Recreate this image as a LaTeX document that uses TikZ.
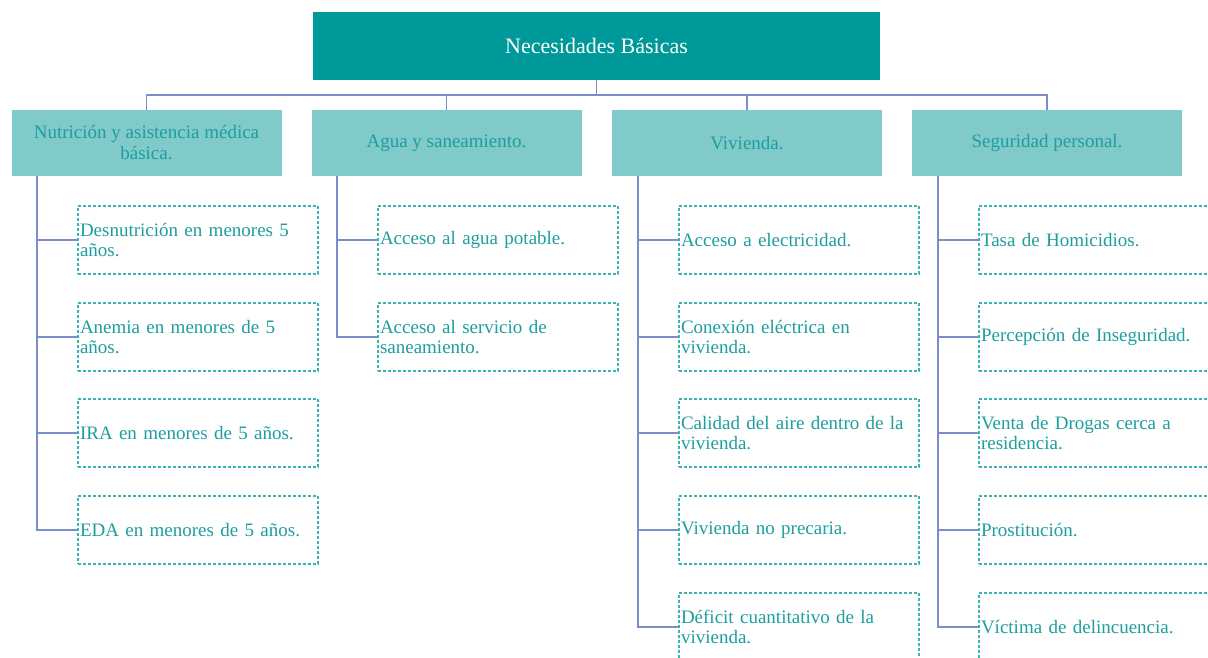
\documentclass[tikz,border=0pt]{standalone}
\usepackage{fontspec}
\setmainfont{Liberation Serif}
\definecolor{topfill}{RGB}{0,153,153}
\definecolor{catfill}{RGB}{128,202,202}
\definecolor{tealtxt}{RGB}{30,158,158}
\definecolor{dashcol}{RGB}{60,178,178}
\definecolor{linecol}{RGB}{122,142,204}
\tikzset{
  topbox/.style={fill=topfill, text=white, minimum width=567pt, minimum height=68pt, inner sep=0pt, font=\fontsize{22}{26}\selectfont},
  catbox/.style={fill=catfill, text=tealtxt, minimum width=270pt, minimum height=66pt, inner sep=0pt, align=center, font=\fontsize{19}{21}\selectfont},
  itembox/.style={draw=dashcol, line width=1.2pt, dash pattern=on 3pt off 2pt, text=tealtxt, minimum width=240pt, minimum height=68pt, text width=236pt, inner xsep=1.5pt, inner ysep=0pt, align=left, font=\fontsize{19}{20.5}\selectfont},
  conn/.style={draw=linecol, line width=1.8pt}
}
\begin{document}
\begin{tikzpicture}[x=1pt,y=-1pt]
\useasboundingbox (0,0) rectangle (1208,657);
\fill[white] (0,0) rectangle (1208,657);
% top
\node[topbox] (top) at (596.5,46) {Necesidades Básicas};
% categories
\node[catbox] (c1) at (146.5,143) {Nutrición y asistencia médica\\básica.};
\node[catbox] (c2) at (446.5,143) {Agua y saneamiento.};
\node[catbox] (c3) at (747,143) {Vivienda.};
\node[catbox] (c4) at (1047,143) {Seguridad personal.};
% items column 1
\node[itembox] (a1) at (198,240) {Desnutrición en menores 5\\años.};
\node[itembox] (a2) at (198,337) {Anemia en menores de 5\\años.};
\node[itembox] (a3) at (198,433) {IRA en menores de 5 años.};
\node[itembox] (a4) at (198,530) {EDA en menores de 5 años.};
% column 2
\node[itembox] (b1) at (498,240) {Acceso al agua potable.};
\node[itembox] (b2) at (498,337) {Acceso al servicio de\\saneamiento.};
% column 3
\node[itembox] (d1) at (799,240) {Acceso a electricidad.};
\node[itembox] (d2) at (799,337) {Conexión eléctrica en\\vivienda.};
\node[itembox] (d3) at (799,433) {Calidad del aire dentro de la\\vivienda.};
\node[itembox] (d4) at (799,530) {Vivienda no precaria.};
\node[itembox] (d5) at (799,627) {Déficit cuantitativo de la\\vivienda.};
% column 4
\node[itembox] (e1) at (1099,240) {Tasa de Homicidios.};
\node[itembox] (e2) at (1099,337) {Percepción de Inseguridad.};
\node[itembox] (e3) at (1099,433) {Venta de Drogas cerca a\\residencia.};
\node[itembox] (e4) at (1099,530) {Prostitución.};
\node[itembox] (e5) at (1099,627) {Víctima de delincuencia.};
% top connectors
\coordinate (bus) at ([yshift=-15pt]top.south);
\draw[conn] (top.south) -- (bus);
\draw[conn] (c1.north) |- (bus);
\draw[conn] (c4.north) |- (bus);
\draw[conn] (c2.north) -- (c2.north |- bus);
\draw[conn] (c3.north) -- (c3.north |- bus);
% item connectors
\foreach \n in {a1,a2,a3,a4}{\draw[conn] ([xshift=26pt]c1.south west) |- (\n.west);}
\foreach \n in {b1,b2}{\draw[conn] ([xshift=26pt]c2.south west) |- (\n.west);}
\foreach \n in {d1,d2,d3,d4,d5}{\draw[conn] ([xshift=26pt]c3.south west) |- (\n.west);}
\foreach \n in {e1,e2,e3,e4,e5}{\draw[conn] ([xshift=26pt]c4.south west) |- (\n.west);}
\end{tikzpicture}
\end{document}
